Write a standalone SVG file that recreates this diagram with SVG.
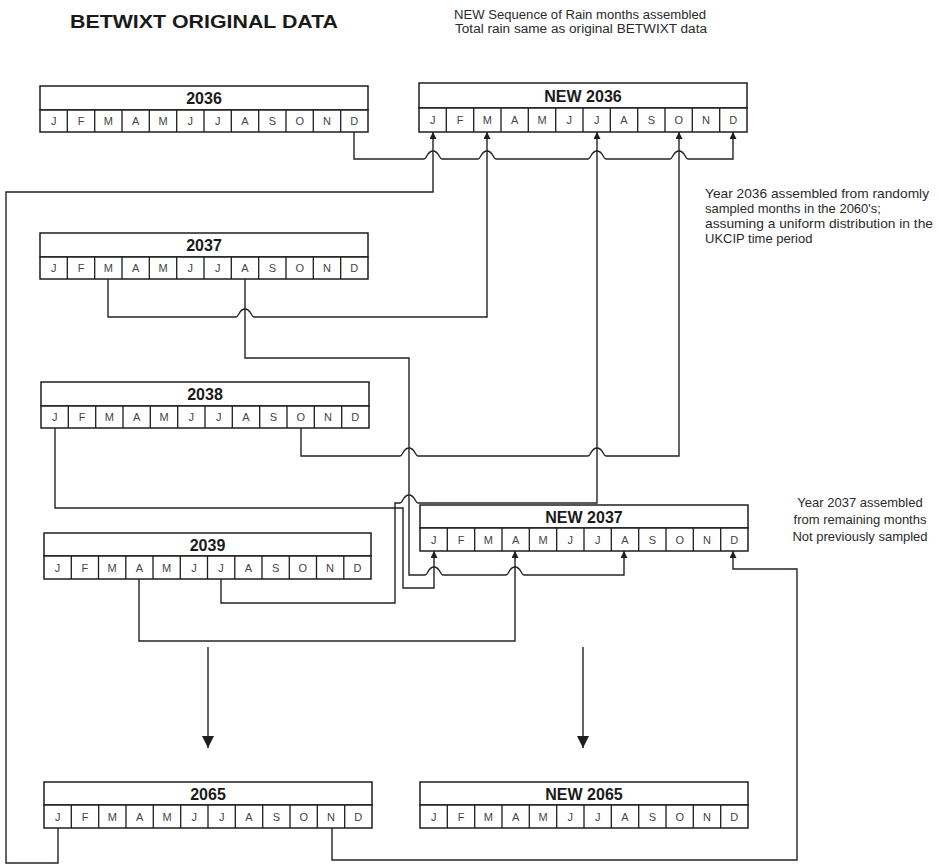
<svg xmlns="http://www.w3.org/2000/svg" width="939" height="866" viewBox="0 0 939 866">
  <style>
    .bg { fill: #ffffff; }
    .box { fill: #ffffff; stroke: #1e1e1e; stroke-width: 1.5; }
    .div { stroke: #1e1e1e; stroke-width: 1.3; }
    .yr { font-family: "Liberation Sans", Arial, sans-serif; font-weight: bold; font-size: 16px; fill: #1a1a1a; text-anchor: middle; }
    .mo { font-family: "Liberation Sans", Arial, sans-serif; font-size: 11px; fill: #444444; text-anchor: middle; }
    .title { font-family: "Liberation Sans", Arial, sans-serif; font-weight: bold; font-size: 18px; fill: #1a1a1a; }
    .note { font-family: "Liberation Sans", Arial, sans-serif; font-size: 13px; fill: #2a2a2a; }
    .notec { font-family: "Liberation Sans", Arial, sans-serif; font-size: 12.5px; fill: #2a2a2a; text-anchor: middle; }
    .wire { fill: none; stroke: #262126; stroke-width: 1.4; }
    .up { marker-end: url(#headUp); }
    .down { marker-end: url(#headDown); }
  </style>
  <defs>
    <marker id="headUp" viewBox="0 0 10 10" refX="10" refY="5" markerUnits="userSpaceOnUse" markerWidth="9" markerHeight="7" orient="auto">
      <path d="M0,0 L10,5 L0,10 z" fill="#1e1e1e"/>
    </marker>
    <marker id="headDown" viewBox="0 0 10 10" refX="10" refY="5" markerUnits="userSpaceOnUse" markerWidth="13" markerHeight="12" orient="auto">
      <path d="M0,0 L10,5 L0,10 z" fill="#1e1e1e"/>
    </marker>
  </defs>

  <rect class="bg" x="0" y="0" width="939" height="866"/>

  <!-- headings and notes -->
  <text class="title" x="70" y="28" textLength="268" lengthAdjust="spacingAndGlyphs">BETWIXT ORIGINAL DATA</text>
  <g id="note-top">
    <text class="notec" x="580" y="19" textLength="252" lengthAdjust="spacingAndGlyphs">NEW Sequence of Rain months assembled</text>
    <text class="notec" x="581" y="33" textLength="252" lengthAdjust="spacingAndGlyphs">Total rain same as original BETWIXT data</text>
  </g>
  <g id="note-2036">
    <text class="note" x="705" y="198" textLength="224" lengthAdjust="spacingAndGlyphs">Year 2036 assembled from randomly</text>
    <text class="note" x="705" y="213">sampled months in the 2060's;</text>
    <text class="note" x="705" y="228" textLength="228" lengthAdjust="spacingAndGlyphs">assuming a uniform distribution in the</text>
    <text class="note" x="705" y="243">UKCIP time period</text>
  </g>
  <g id="note-2037">
    <text class="note" x="860" y="507" text-anchor="middle">Year 2037 assembled</text>
    <text class="note" x="860" y="524" text-anchor="middle">from remaining months</text>
    <text class="note" x="860" y="541" text-anchor="middle">Not previously sampled</text>
  </g>

  <!-- year boxes: header row with the year, then twelve month cells -->
  <g id="y2036" transform="translate(40,86)">
    <rect class="box" x="0" y="0" width="328" height="24"/>
    <rect class="box" x="0" y="24" width="328" height="22"/>
    <path class="div" d="M27.3,24v22M54.7,24v22M82,24v22M109.3,24v22M136.7,24v22M164,24v22M191.3,24v22M218.7,24v22M246,24v22M273.3,24v22M300.7,24v22"/>
    <text class="yr" x="164" y="18">2036</text>
    <text class="mo" y="39"><tspan x="13.7">J</tspan><tspan x="41">F</tspan><tspan x="68.3">M</tspan><tspan x="95.7">A</tspan><tspan x="123">M</tspan><tspan x="150.3">J</tspan><tspan x="177.7">J</tspan><tspan x="205">A</tspan><tspan x="232.3">S</tspan><tspan x="259.7">O</tspan><tspan x="287">N</tspan><tspan x="314.3">D</tspan></text>
  </g>

  <g id="new2036" transform="translate(419,83)">
    <rect class="box" x="0" y="0" width="328" height="25"/>
    <rect class="box" x="0" y="25" width="328" height="24"/>
    <path class="div" d="M27.3,25v24M54.7,25v24M82,25v24M109.3,25v24M136.7,25v24M164,25v24M191.3,25v24M218.7,25v24M246,25v24M273.3,25v24M300.7,25v24"/>
    <text class="yr" x="164" y="19">NEW 2036</text>
    <text class="mo" y="41"><tspan x="13.7">J</tspan><tspan x="41">F</tspan><tspan x="68.3">M</tspan><tspan x="95.7">A</tspan><tspan x="123">M</tspan><tspan x="150.3">J</tspan><tspan x="177.7">J</tspan><tspan x="205">A</tspan><tspan x="232.3">S</tspan><tspan x="259.7">O</tspan><tspan x="287">N</tspan><tspan x="314.3">D</tspan></text>
  </g>

  <g id="y2037" transform="translate(40,233)">
    <rect class="box" x="0" y="0" width="328" height="24"/>
    <rect class="box" x="0" y="24" width="328" height="22"/>
    <path class="div" d="M27.3,24v22M54.7,24v22M82,24v22M109.3,24v22M136.7,24v22M164,24v22M191.3,24v22M218.7,24v22M246,24v22M273.3,24v22M300.7,24v22"/>
    <text class="yr" x="164" y="18">2037</text>
    <text class="mo" y="39"><tspan x="13.7">J</tspan><tspan x="41">F</tspan><tspan x="68.3">M</tspan><tspan x="95.7">A</tspan><tspan x="123">M</tspan><tspan x="150.3">J</tspan><tspan x="177.7">J</tspan><tspan x="205">A</tspan><tspan x="232.3">S</tspan><tspan x="259.7">O</tspan><tspan x="287">N</tspan><tspan x="314.3">D</tspan></text>
  </g>

  <g id="y2038" transform="translate(41,382)">
    <rect class="box" x="0" y="0" width="328" height="24"/>
    <rect class="box" x="0" y="24" width="328" height="22"/>
    <path class="div" d="M27.3,24v22M54.7,24v22M82,24v22M109.3,24v22M136.7,24v22M164,24v22M191.3,24v22M218.7,24v22M246,24v22M273.3,24v22M300.7,24v22"/>
    <text class="yr" x="164" y="18">2038</text>
    <text class="mo" y="39"><tspan x="13.7">J</tspan><tspan x="41">F</tspan><tspan x="68.3">M</tspan><tspan x="95.7">A</tspan><tspan x="123">M</tspan><tspan x="150.3">J</tspan><tspan x="177.7">J</tspan><tspan x="205">A</tspan><tspan x="232.3">S</tspan><tspan x="259.7">O</tspan><tspan x="287">N</tspan><tspan x="314.3">D</tspan></text>
  </g>

  <g id="new2037" transform="translate(420,505)">
    <rect class="box" x="0" y="0" width="328" height="23"/>
    <rect class="box" x="0" y="23" width="328" height="23"/>
    <path class="div" d="M27.3,23v23M54.7,23v23M82,23v23M109.3,23v23M136.7,23v23M164,23v23M191.3,23v23M218.7,23v23M246,23v23M273.3,23v23M300.7,23v23"/>
    <text class="yr" x="164" y="18">NEW 2037</text>
    <text class="mo" y="39"><tspan x="13.7">J</tspan><tspan x="41">F</tspan><tspan x="68.3">M</tspan><tspan x="95.7">A</tspan><tspan x="123">M</tspan><tspan x="150.3">J</tspan><tspan x="177.7">J</tspan><tspan x="205">A</tspan><tspan x="232.3">S</tspan><tspan x="259.7">O</tspan><tspan x="287">N</tspan><tspan x="314.3">D</tspan></text>
  </g>

  <g id="y2039" transform="translate(44,533)">
    <rect class="box" x="0" y="0" width="327" height="23"/>
    <rect class="box" x="0" y="23" width="327" height="23"/>
    <path class="div" d="M27.3,23v23M54.5,23v23M81.8,23v23M109,23v23M136.3,23v23M163.5,23v23M190.8,23v23M218,23v23M245.3,23v23M272.5,23v23M299.8,23v23"/>
    <text class="yr" x="163.5" y="18">2039</text>
    <text class="mo" y="39"><tspan x="13.6">J</tspan><tspan x="40.9">F</tspan><tspan x="68.1">M</tspan><tspan x="95.4">A</tspan><tspan x="122.6">M</tspan><tspan x="149.9">J</tspan><tspan x="177.1">J</tspan><tspan x="204.4">A</tspan><tspan x="231.6">S</tspan><tspan x="258.9">O</tspan><tspan x="286.1">N</tspan><tspan x="313.4">D</tspan></text>
  </g>

  <g id="y2065" transform="translate(44,782)">
    <rect class="box" x="0" y="0" width="328" height="23"/>
    <rect class="box" x="0" y="23" width="328" height="23"/>
    <path class="div" d="M27.3,23v23M54.7,23v23M82,23v23M109.3,23v23M136.7,23v23M164,23v23M191.3,23v23M218.7,23v23M246,23v23M273.3,23v23M300.7,23v23"/>
    <text class="yr" x="164" y="18">2065</text>
    <text class="mo" y="39"><tspan x="13.7">J</tspan><tspan x="41">F</tspan><tspan x="68.3">M</tspan><tspan x="95.7">A</tspan><tspan x="123">M</tspan><tspan x="150.3">J</tspan><tspan x="177.7">J</tspan><tspan x="205">A</tspan><tspan x="232.3">S</tspan><tspan x="259.7">O</tspan><tspan x="287">N</tspan><tspan x="314.3">D</tspan></text>
  </g>

  <g id="new2065" transform="translate(420,782)">
    <rect class="box" x="0" y="0" width="328" height="23"/>
    <rect class="box" x="0" y="23" width="328" height="23"/>
    <path class="div" d="M27.3,23v23M54.7,23v23M82,23v23M109.3,23v23M136.7,23v23M164,23v23M191.3,23v23M218.7,23v23M246,23v23M273.3,23v23M300.7,23v23"/>
    <text class="yr" x="164" y="18">NEW 2065</text>
    <text class="mo" y="39"><tspan x="13.7">J</tspan><tspan x="41">F</tspan><tspan x="68.3">M</tspan><tspan x="95.7">A</tspan><tspan x="123">M</tspan><tspan x="150.3">J</tspan><tspan x="177.7">J</tspan><tspan x="205">A</tspan><tspan x="232.3">S</tspan><tspan x="259.7">O</tspan><tspan x="287">N</tspan><tspan x="314.3">D</tspan></text>
  </g>

  <!-- month-to-month links; small bumps mark where a wire jumps over another -->
  <g id="connectors">
    <path class="wire up" d="M354,132 V159 H424 c3,0 3,-8 9,-8 s6,8 9,8 H478 c3,0 3,-8 9,-8 s6,8 9,8 H588 c3,0 3,-8 9,-8 s6,8 9,8 H670 c3,0 3,-8 9,-8 s6,8 9,8 H733 V132"/>
    <path class="wire up" d="M58,828 V863 H6 V192 H433 V132"/>
    <path class="wire up" d="M108,279 V317 H236 c3,0 3,-8 9,-8 s6,8 9,8 H487 V132"/>
    <path class="wire up" d="M301,428 V456 H400 c3,0 3,-8 9,-8 s6,8 9,8 H588 c3,0 3,-8 9,-8 s6,8 9,8 H679 V132"/>
    <path class="wire up" d="M221,579 V603 H395 V503 H400 c3,0 3,-8 9,-8 s6,8 9,8 H597 V132"/>
    <path class="wire up" d="M245,279 V358 H409 V575 H425 c3,0 3,-8 9,-8 s6,8 9,8 H506 c3,0 3,-8 9,-8 s6,8 9,8 H624 V551"/>
    <path class="wire up" d="M55,428 V508 H403 V588 H434 V551"/>
    <path class="wire up" d="M139,579 V641 H515 V551"/>
    <path class="wire up" d="M332,828 V860 H797 V569 H733 V551"/>
    <path class="wire down" d="M208,647 V748"/>
    <path class="wire down" d="M583,647 V748"/>
  </g>
</svg>
